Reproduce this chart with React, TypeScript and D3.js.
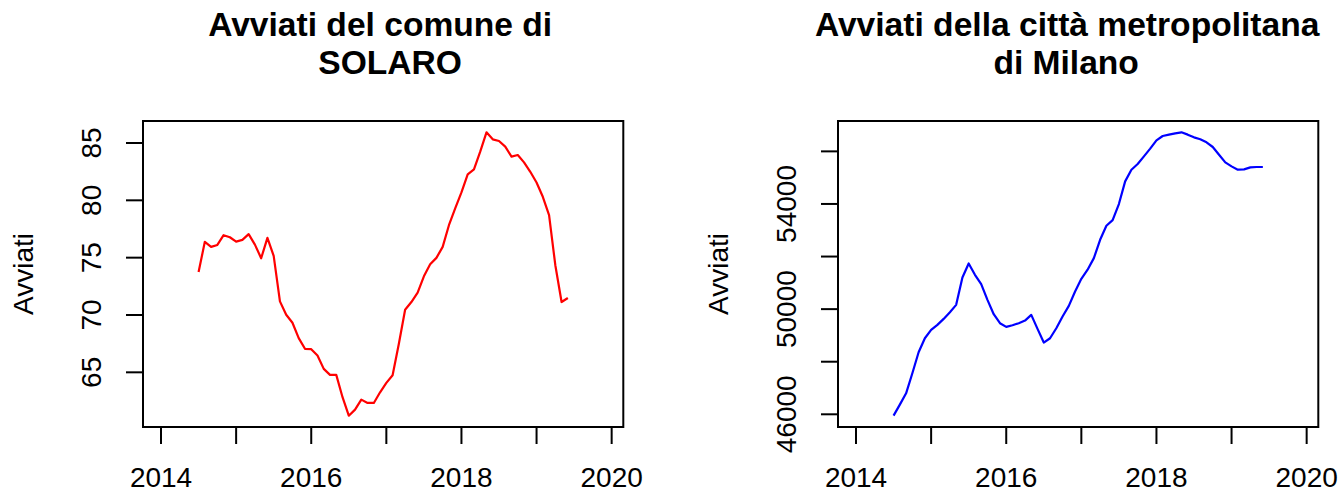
import * as d3 from "d3"
import { useEffect } from "react"

// monthly series, Jul 2014 .. Jun 2019
const startYear = 2014.5
const solaroValues = [
  73.75, 76.38, 75.94, 76.11, 76.96, 76.78, 76.4, 76.55, 77.05, 76.14, 74.95, 76.73,
  75.15, 71.19, 70.02, 69.32, 67.98, 67.05, 67.02, 66.47, 65.3, 64.78, 64.78, 62.83,
  61.22, 61.75, 62.62, 62.33, 62.33, 63.26, 64.08, 64.75, 67.49, 70.46, 71.13, 71.95,
  73.37, 74.42, 74.98, 75.94, 77.83, 79.29, 80.69, 82.26, 82.7, 84.24, 85.93, 85.32,
  85.17, 84.68, 83.81, 83.95, 83.31, 82.49, 81.56, 80.31, 78.71, 74.34, 71.13, 71.48,
]
const milanoValues = [
  45948, 46367, 46798, 47560, 48360, 48893, 49210, 49401, 49629, 49883, 50162, 51203,
  51736, 51305, 50949, 50353, 49807, 49464, 49324, 49388, 49464, 49565, 49781, 49248,
  48728, 48893, 49274, 49718, 50124, 50670, 51152, 51500, 51939, 52637, 53170, 53386,
  53996, 54859, 55303, 55519, 55811, 56103, 56420, 56585, 56636, 56686, 56724, 56636,
  56534, 56458, 56344, 56166, 55874, 55582, 55430, 55303, 55316, 55392, 55405, 55405,
]
const xTicks = [2014, 2015, 2016, 2017, 2018, 2019, 2020]
const xTickLabels = ["2014", "", "2016", "", "2018", "", "2020"]
const solaroTicks = [65, 70, 75, 80, 85]
const milanoTicks = [46000, 48000, 50000, 52000, 54000, 56000]
const milanoTickLabels = ["46000", "", "50000", "", "54000", ""]
const xLimits = [2013.76, 2020.155]

const FONT = "'Liberation Sans', Arial, Helvetica, sans-serif"
const TOP = 121
const BOTTOM = 427
const PLOT_W = 480.3

function Panel({
  left,
  values,
  color,
  titleLines,
  titleShift,
  yTicks,
  yTickLabels,
}: {
  left: number
  values: number[]
  color: string
  titleLines: string[]
  titleShift: number[]
  yTicks: number[]
  yTickLabels: string[]
}) {
  const right = left + PLOT_W
  const x = d3.scaleLinear().domain(xLimits).range([left, right])
  const [lo, hi] = d3.extent(values) as [number, number]
  const pad = (hi - lo) * 0.04
  const y = d3.scaleLinear().domain([lo - pad, hi + pad]).range([BOTTOM, TOP])
  const line = d3
    .line<number>()
    .x((_d, i) => x(startYear + i / 12))
    .y((d) => y(d))
  const cx = (left + right) / 2

  return (
    <g>
      {titleLines.map((t, i) => (
        <text
          key={t}
          x={cx + titleShift[i]}
          y={i === 0 ? 36 : 73.5}
          textAnchor="middle"
          fontFamily={FONT}
          fontWeight="bold"
          fontSize={33.6}
        >
          {t}
        </text>
      ))}
      <path d={line(values) ?? ""} fill="none" stroke={color} strokeWidth={2.2} strokeLinejoin="round" />
      <rect x={left} y={TOP} width={PLOT_W} height={BOTTOM - TOP} fill="none" stroke="#000" strokeWidth={2} />
      {xTicks.map((t, i) => (
        <g key={t}>
          <line x1={x(t)} x2={x(t)} y1={BOTTOM} y2={BOTTOM + 17} stroke="#000" strokeWidth={2} />
          {xTickLabels[i] && (
            <text x={x(t)} y={487} textAnchor="middle" fontFamily={FONT} fontSize={28}>
              {xTickLabels[i]}
            </text>
          )}
        </g>
      ))}
      {yTicks.map((t, i) => (
        <g key={t}>
          <line x1={left - 17} x2={left} y1={y(t)} y2={y(t)} stroke="#000" strokeWidth={2} />
          {yTickLabels[i] && (
            <text
              transform={`translate(${left - 42},${y(t)}) rotate(-90)`}
              textAnchor="middle"
              fontFamily={FONT}
              fontSize={28}
            >
              {yTickLabels[i]}
            </text>
          )}
        </g>
      ))}
      <text
        transform={`translate(${left - 110},${(TOP + BOTTOM) / 2}) rotate(-90)`}
        textAnchor="middle"
        fontFamily={FONT}
        fontSize={28}
      >
        Avviati
      </text>
    </g>
  )
}

export default function App() {
  useEffect(() => {
    document.body.style.margin = "0"
  }, [])

  return (
    <svg width={1341} height={493} style={{ display: "block", background: "#fff" }}>
      <rect width={1341} height={493} fill="#fff" />
      <Panel
        left={143}
        values={solaroValues}
        color="#FF0000"
        titleLines={["Avviati del comune di", "SOLARO"]}
        titleShift={[-3, 7]}
        yTicks={solaroTicks}
        yTickLabels={solaroTicks.map(String)}
      />
      <Panel
        left={838}
        values={milanoValues}
        color="#0000FF"
        titleLines={["Avviati della città metropolitana", "di Milano"]}
        titleShift={[-11, -12]}
        yTicks={milanoTicks}
        yTickLabels={milanoTickLabels}
      />
    </svg>
  )
}
